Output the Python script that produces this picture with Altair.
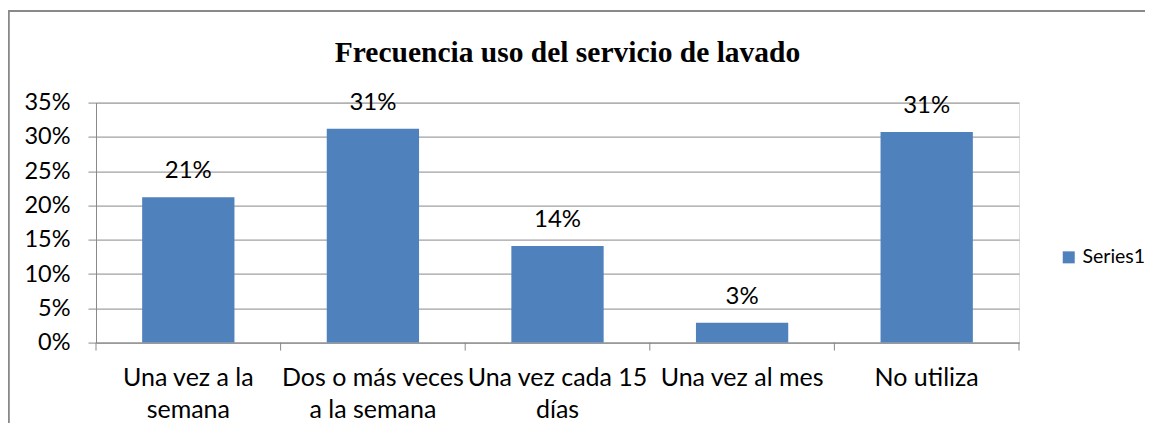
import altair as alt
import pandas as pd

categories = ["Una vez a la|semana", "Dos o más veces|a la semana", "Una vez cada 15|días",
              "Una vez al mes", "No utiliza"]
values = [0.212, 0.312, 0.141, 0.029, 0.307]
series = ["Series1"] * 5
y_ticks = [0, 0.05, 0.10, 0.15, 0.20, 0.25, 0.30, 0.35]
title_text = "Frecuencia uso del servicio de lavado"

df = pd.DataFrame({"cat": categories, "val": values, "series": series})

W, H = 923, 240
GRAY = "#898989"
FONT = "Lato"

xscale = alt.Scale(domain=categories, paddingInner=0.5, paddingOuter=0.25)
tickscale = alt.Scale(domain=categories, paddingInner=0, paddingOuter=0)

x_axis = alt.Axis(labelExpr="split(datum.label, '|')", ticks=False,
                  labelAngle=0, labelFont=FONT, labelFontSize=25,
                  labelColor="black", labelBaseline="alphabetic",
                  labelPadding=43, labelLineHeight=32, labelLimit=0,
                  labelOverlap=False, domainColor=GRAY, domainWidth=1,
                  grid=False)
y_axis = alt.Axis(format=".0%", values=y_ticks, tickCount=8, labelFont=FONT,
                  labelFontSize=23.5, labelColor="black", tickSize=8,
                  tickColor=GRAY, domainColor=GRAY, gridColor=GRAY,
                  labelPadding=18, labelOverlap=False)

x_enc = alt.X("cat:N", sort=categories, scale=xscale, title=None, axis=x_axis)
y_enc = alt.Y("val:Q", scale=alt.Scale(domain=[0, 0.35], nice=False, zero=True),
              title=None, axis=y_axis)

base = alt.Chart(df)

bars = base.mark_bar().encode(
    x=x_enc,
    y=y_enc,
    color=alt.Color("series:N", scale=alt.Scale(range=["#4F81BD"]),
                    legend=alt.Legend(title=None, orient="none", legendX=963, legendY=145,
                                      symbolType="square", symbolSize=144,
                                      symbolStrokeWidth=0, labelFont=FONT,
                                      labelFontSize=19.5, labelColor="black",
                                      padding=0, labelOffset=4)),
)

labels = base.mark_text(baseline="alphabetic", dy=-19, font=FONT, fontSize=24,
                        color="black").encode(
    x=x_enc,
    y=y_enc,
    text=alt.Text("val:Q", format=".0%"),
)

ticks = base.mark_rule(color=GRAY, strokeWidth=1).encode(
    x=alt.X("cat:N", sort=categories, scale=tickscale, bandPosition=0, axis=None),
    y=alt.value(H), y2=alt.value(H + 8),
)
last_tick = base.transform_filter(
    alt.datum.cat == categories[-1]
).mark_rule(color=GRAY, strokeWidth=1).encode(
    x=alt.X("cat:N", sort=categories, scale=tickscale, bandPosition=1, axis=None),
    y=alt.value(H), y2=alt.value(H + 8),
)
tick_layer = alt.layer(ticks, last_tick)

frame_top = base.mark_rule(color=GRAY, strokeWidth=2).encode(
    x=alt.value(-87.5), x2=alt.value(1060), y=alt.value(-91.5))
frame_left = base.mark_rule(color=GRAY, strokeWidth=1.5).encode(
    x=alt.value(-87.5), y=alt.value(-91.5), y2=alt.value(400))

title = alt.Chart(pd.DataFrame({"t": [title_text]})).mark_text(
    font="Liberation Serif", fontSize=29.5, fontWeight="bold", color="black",
    baseline="alphabetic", align="center"
).encode(x=alt.value(471.5), y=alt.value(-40.5), text="t:N")

main = alt.layer(bars, labels)

chart = alt.layer(main, tick_layer, frame_top, frame_left, title).resolve_scale(
    x="independent"
).properties(
    width=W, height=H,
    autosize=alt.AutoSizeParams(type="none"),
    padding={"left": 88, "top": 94.6, "right": 126, "bottom": 80},
).configure_view(stroke=None).configure(background="white")

chart.save("out.html", embed_options={"renderer": "svg", "actions": False})
